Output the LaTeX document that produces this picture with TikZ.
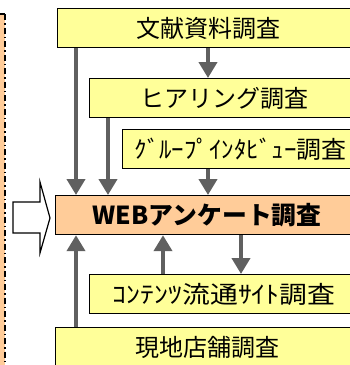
\documentclass[tikz,border=0pt]{standalone}
\usepackage{fontspec}
\setmainfont{Noto Sans CJK JP}
\usetikzlibrary{arrows.meta}
\definecolor{ybg}{HTML}{FFFF99}
\definecolor{pbg}{HTML}{FFCC99}
\definecolor{agray}{HTML}{606060}
\tikzset{
  box/.style={draw=black, line width=1.2pt, anchor=north west, minimum height=39pt, inner sep=0pt, font=\fontsize{24}{28}\selectfont},
  ybox/.style={box, fill=ybg},
  pbox/.style={box, fill=pbg, font=\fontsize{24.8}{28}\selectfont\bfseries},
  arr/.style={draw=agray, line width=4.5pt, -{Triangle[width=18pt,length=16pt]}, color=agray}
}
\begin{document}
\begin{tikzpicture}[x=1pt,y=-1pt]
\useasboundingbox (0,0) rectangle (350,365);
\clip (0,0) rectangle (350,365);
% left strip
\fill[pbg] (0,14) rectangle (5,370);
\draw[line width=1.2pt, dash pattern=on 6pt off 3pt on 1.5pt off 3pt] (5,14) -- (5,370);
\draw[line width=1.2pt] (0,14) -- (5,14);
% boxes
\node[ybox, minimum width=301pt] (b1) at (57,8) {文献資料調査};
\node[ybox, minimum width=269pt] (b2) at (89,78) {ヒアリング調査};
\node[ybox, minimum width=236pt] (b3) at (122,129) {\scalebox{1.04}[1]{ｸﾞﾙｰﾌﾟｲﾝﾀﾋﾞｭｰ調査}};
\node[pbox, minimum width=303pt] (web) at (55,195) {WEBアンケート調査};
\node[ybox, minimum width=269pt] (cont) at (89,274) {\scalebox{1.16}[1]{ｺﾝﾃﾝﾂ流通ｻｲﾄ調査}};
\node[ybox, minimum width=303pt] (gen) at (55,327) {現地店舗調査};
% hollow arrow
\draw[fill=white, line width=1.2pt] (13,202) -- (40,202) -- (40,182) -- (50,218) -- (40,253) -- (40,233) -- (13,233) -- cycle;
% connectors
\draw[arr] (b1.south -| 76,0) -- (web.north -| 76,0);
\draw[arr] (b1.south -| 208,0) -- (b2.north -| 208,0);
\draw[arr] (b2.south -| 108,0) -- (web.north -| 108,0);
\draw[arr] (b3.south -| 208,0) -- (web.north -| 208,0);
\draw[arr] (web.south -| 241,0) -- (cont.north -| 241,0);
\draw[arr] (cont.north -| 163,0) -- (web.south -| 163,0);
\draw[arr] (gen.north -| 76,0) -- (web.south -| 76,0);
\end{tikzpicture}
\end{document}
